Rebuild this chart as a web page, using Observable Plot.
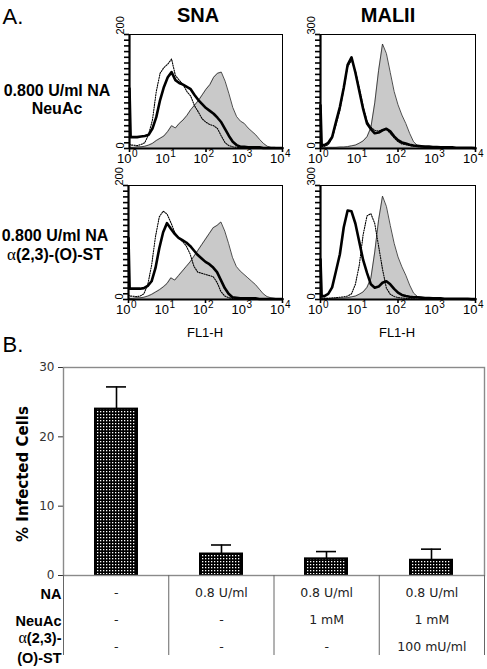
<!DOCTYPE html>
<html><head><meta charset="utf-8">
<script src="https://cdn.jsdelivr.net/npm/d3@7"></script>
<script src="https://cdn.jsdelivr.net/npm/@observablehq/plot@0.6"></script>
<style>
body{margin:0;background:#fff;}
#fig{position:relative;width:487px;height:669px;overflow:hidden;font-family:"Liberation Sans",Arial,sans-serif;color:#000;}
#fig svg{overflow:visible;}
.lab{position:absolute;transform:translate(-50%,-50%);white-space:nowrap;text-align:center;line-height:1;}
.abs{position:absolute;}
.hist g[aria-label="y-axis tick"] path,.hist g[aria-label="x-axis tick"] path{stroke-width:1.6px;}
</style></head><body><div id="fig"></div>
<script>
// ---------- Panel A: flow cytometry histograms (log10 FL1-H grid, counts) ----------
const logFL = [0,0.03,0.1,0.2,0.3,0.4,0.5,0.6,0.7,0.8,0.9,1.0,1.1,1.2,1.3,1.4,1.5,1.6,1.7,1.8,1.9,2.0,2.1,2.2,2.3,2.4,2.5,2.6,2.7,2.8,2.9,3.0,3.1,3.2,3.3,3.4,3.5,3.6,3.7,3.8,3.9,4.0];
const decadeTicks = [1,10,100,1000,10000];
const decadeExp = ["0","1","2","3","4"];

const snaTopGray   = [2,2, 2,3,3,4,6,9,14,18,22, 30,40,36,44,50,58,68,76,84,94, 104,112,125,132,134,118,96,72,56,48, 44,36,30,24,16,9,4,2,2,1, 1];
const snaTopBold   = [105,20, 20,20,21,22,24,35,55,85,108, 125,134,120,115,112,108,104,94,85,78, 71,66,61,54,46,34,22,12,6,3, 3,2,2,2,2,1,1,1,1,1, 1];
const snaTopDot    = [8,6, 6,5,7,10,25,50,100,132,142, 148,157,128,120,112,100,92,75,64,52, 46,42,40,35,22,10,5,3,2,1, 1,1,1,1,1,1,1,1,1,1, 1];

const snaBotGray   = [2,2, 2,3,3,4,6,9,13,17,22, 28,38,34,42,50,58,66,76,86,96, 106,116,126,130,136,120,98,74,58,50, 44,38,32,26,18,10,5,3,2,1, 1];
const snaBotBold   = [108,19, 19,19,19,20,24,32,55,90,118, 134,124,115,108,104,100,94,86,78,72, 66,62,56,48,34,20,10,4,3,2, 2,2,2,2,1,1,1,1,1,1, 1];
const snaBotDot    = [8,6, 6,5,6,10,26,60,110,145,155, 150,135,118,108,102,94,80,58,48,46, 44,42,40,30,14,6,3,2,1,1, 1,1,1,1,1,1,1,1,1,1, 1];

const malTopGray   = [3,3, 3,3,3,3,4,4,5,7,9, 14,20,31,55,120,206,275,250,200,150, 115,88,66,40,18,8,5,3,2,1, 1,1,1,1,1,1,1,1,1,1, 1];
const malTopBold   = [114,9, 9,15,30,70,109,160,220,240,200, 152,104,66,51,40,42,48,52,45,32, 22,16,13,10,8,7,6,5,5,4, 4,3,3,3,3,2,2,2,2,2, 1];
const malTopDot    = [18,5, 6,10,26,62,100,155,215,232,205, 160,112,72,56,48,46,50,50,40,28, 18,12,10,8,6,5,4,4,3,3, 3,2,2,2,2,2,2,2,1,1, 1];

const malBotGray   = [3,3, 3,3,3,3,4,4,5,7,9, 14,20,32,56,125,210,272,245,195,148, 112,86,64,38,17,8,5,3,2,1, 1,1,1,1,1,1,1,1,1,1, 1];
const malBotBold   = [106,9, 9,15,32,75,119,190,234,232,200, 152,104,70,40,31,34,44,48,40,28, 18,12,9,7,6,6,5,4,4,3, 3,3,2,2,2,2,2,2,2,1, 1];
const malBotDot    = [10,4, 3,3,4,5,6,7,9,15,40, 90,170,220,226,200,140,80,30,14,8, 5,4,3,2,2,1,1,1,1,1, 1,1,1,1,1,1,1,1,1,1, 1];

// ---------- Panel B: % infected cells ----------
const conditions = ["Mock","NA","NA + NeuAc","NA + NeuAc + ST"];
const infected   = [24.0, 3.1, 2.4, 2.2];
const infectedSD = [3.2, 1.3, 1.05, 1.6];
const yTicksB    = [0,10,20,30];

// treatment table
const rowKeys   = ["NA","NeuAc","ST"];
const rowLabels = ["NA","NeuAc","α(2,3)-\n(O)-ST"];
const naCol     = ["-","0.8 U/ml","0.8 U/ml","0.8 U/ml"];
const neuAcCol  = ["-","-","1 mM","1 mM"];
const stCol     = ["-","-","-","100 mU/ml"];

const fig = document.getElementById("fig");
function place(node, left, top, cls) {
  const d = document.createElement("div");
  d.className = "abs" + (cls ? " " + cls : "");
  d.style.left = left + "px"; d.style.top = top + "px";
  d.appendChild(node); fig.appendChild(d);
}
function label(html, x, y, style) {
  const d = document.createElement("div");
  d.className = "lab"; d.innerHTML = html;
  d.style.left = x + "px"; d.style.top = y + "px";
  Object.assign(d.style, style || {});
  fig.appendChild(d);
}

const decades = decadeTicks.map((v, i) => ({v, e: decadeExp[i]}));
function hist(gray, bold, dotted, ymax, frameW) {
  const rows = logFL.map((l, i) => ({fl: Math.pow(10, l), g: gray[i], b: bold[i], d: dotted[i]}));
  return Plot.plot({
    width: 24 + frameW + 6, height: 6 + 114 + 24,
    marginLeft: 24, marginRight: 6, marginTop: 6, marginBottom: 24,
    style: {fontFamily: "Liberation Sans, Arial, sans-serif", fontSize: "12px", background: "transparent", color: "#000", overflow: "visible"},
    x: {type: "log", domain: [1, 1e4], tickFormat: () => "", tickSize: 4, label: null},
    y: {domain: [0, ymax], ticks: d3.range(0, ymax + 1, ymax / 20), tickFormat: () => "", tickSize: 5, label: null},
    marks: [
      Plot.areaY(rows, {x: "fl", y: "g", fill: "#c9c9c9"}),
      Plot.lineY(rows, {x: "fl", y: "g", stroke: "#222", strokeWidth: 0.8}),
      Plot.lineY(rows, {x: "fl", y: "b", stroke: "#000", strokeWidth: 2.6}),
      Plot.lineY(rows, {x: "fl", y: "d", stroke: "#000", strokeWidth: 1.1, strokeDasharray: "1.2,1.3"}),
      Plot.frame({stroke: "#000", strokeWidth: 1}),
      Plot.ruleX([1], {stroke: "#000", strokeWidth: 2.2}),
      Plot.ruleY([0], {stroke: "#000", strokeWidth: 2.2}),
      Plot.text(decades, {x: "v", text: () => "10", frameAnchor: "bottom", textAnchor: "end", dx: 2, dy: 14, fontSize: 13}),
      Plot.text(decades, {x: "v", text: "e", frameAnchor: "bottom", textAnchor: "start", dx: 2.5, dy: 8, fontSize: 10}),
      Plot.text([0, ymax], {y: d => d, text: d => String(d), frameAnchor: "left", dx: -9, rotate: -90, fontSize: 11})
    ]
  });
}

place(hist(snaTopGray, snaTopBold, snaTopDot, 200, 153), 105, 28, "hist");
place(hist(malTopGray, malTopBold, malTopDot, 300, 155), 296, 28, "hist");
place(hist(snaBotGray, snaBotBold, snaBotDot, 200, 154), 104, 179, "hist");
place(hist(malBotGray, malBotBold, malBotDot, 300, 155), 296, 179, "hist");

label("A.", 13, 17, {fontSize: "22px"});
label("SNA", 198, 15, {fontSize: "20px", fontWeight: "bold"});
label("MALII", 388, 15, {fontSize: "20px", fontWeight: "bold"});
label("0.800 U/ml NA<br>NeuAc", 57, 100, {fontSize: "16px", fontWeight: "bold", lineHeight: "18px"});
label("0.800 U/ml NA<br><span style=\"font-family:'Liberation Serif',serif;font-weight:normal;font-size:17px\">α</span>(2,3)-(O)-ST", 55, 245, {fontSize: "16px", fontWeight: "bold", lineHeight: "19px"});
label("FL1-H", 205, 332, {fontSize: "13px"});
label("FL1-H", 397, 332, {fontSize: "13px"});
label("B.", 13, 345, {fontSize: "22px"});

// ---------- Panel B bar chart ----------
const barData = conditions.map((c, i) => ({c, v: infected[i], sd: infectedSD[i]}));
const bars = Plot.plot({
  width: 487, height: 221, marginLeft: 63, marginRight: 3, marginTop: 11, marginBottom: 2,
  style: {fontFamily: "DejaVu Sans, Verdana, sans-serif", fontSize: "12px", background: "transparent", color: "#333", overflow: "visible"},
  x: {type: "band", domain: conditions, paddingInner: 0.6, paddingOuter: 0.3, axis: null},
  y: {domain: [0, 30], ticks: yTicksB, tickSize: 5, label: null},
  marks: [
    Plot.ruleX(barData, {x: "c", y1: "v", y2: d => d.v + d.sd, stroke: "#000", strokeWidth: 1.6}),
    Plot.tickY(barData, {x: "c", y: d => d.v + d.sd, stroke: "#000", strokeWidth: 1.6, insetLeft: 11, insetRight: 11}),
    Plot.barY(barData, {x: "c", y: "v", fill: "url(#chk)", stroke: "#000", strokeWidth: 2}),
    Plot.frame({stroke: "#8a8a8a", strokeWidth: 1.4})
  ]
});
const defs = d3.select(bars).insert("defs", ":first-child");
const pat = defs.append("pattern").attr("id", "chk").attr("patternUnits", "userSpaceOnUse").attr("width", 3).attr("height", 3);
pat.append("rect").attr("width", 3).attr("height", 3).attr("fill", "#000");
pat.append("rect").attr("x", 1).attr("y", 1).attr("width", 1.3).attr("height", 1.3).attr("fill", "#fff");
place(bars, 0, 356);

label("% Infected Cells", 23, 474, {fontSize: "15px", fontWeight: "bold", fontFamily: "'DejaVu Sans',Verdana,sans-serif", transform: "translate(-50%,-50%) rotate(-90deg)"});

// ---------- treatment table ----------
const cells = [];
conditions.forEach((c, i) => {
  cells.push({col: i + 0.5, row: "NA", t: naCol[i]});
  cells.push({col: i + 0.5, row: "NeuAc", t: neuAcCol[i]});
  cells.push({col: i + 0.5, row: "ST", t: stCol[i]});
});
const bounds = conditions.map((c, i) => i).concat([conditions.length]);
const table = Plot.plot({
  width: 487, height: 94, marginLeft: 63, marginRight: 3, marginTop: 0, marginBottom: 14,
  style: {fontFamily: "DejaVu Sans, Verdana, sans-serif", fontSize: "12.5px", background: "transparent", color: "#222", overflow: "visible"},
  x: {domain: [0, conditions.length], axis: null},
  y: {type: "point", domain: rowKeys, range: [17, 71], padding: 0, axis: null},
  marks: [
    Plot.ruleX(bounds, {stroke: "#666", strokeWidth: 1}),
    Plot.text(cells, {x: "col", y: "row", text: "t", fontSize: 12.5}),
    Plot.text(rowKeys, {y: d => d, text: (d, i) => rowLabels[i], frameAnchor: "left", textAnchor: "end", dx: -2, fontSize: 14.5, fontWeight: "bold", fontFamily: "Liberation Sans, Arial, sans-serif", lineHeight: 1.35, fill: "#000"})
  ]
});
d3.select(table).selectAll("tspan, text").each(function() {
  if (this.childElementCount === 0 && this.textContent.startsWith("α")) {
    const rest = this.textContent.slice(1);
    const s = d3.select(this); s.text("");
    s.append("tspan").attr("font-family", "Liberation Serif, serif").attr("font-weight", "normal").attr("font-size", 16).text("α");
    s.append("tspan").text(rest);
  }
});
place(table, 0, 575);
</script></body></html>
